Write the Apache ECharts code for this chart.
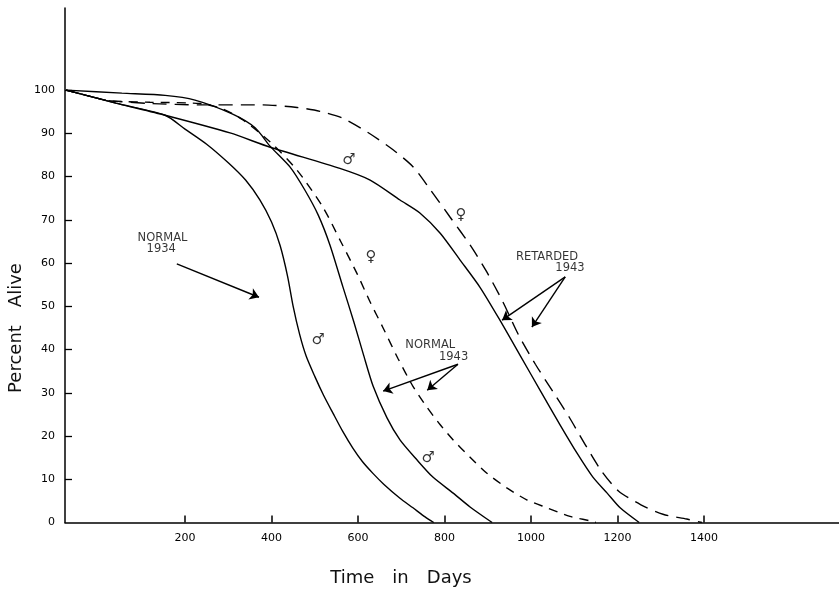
<!DOCTYPE html>
<html>
<head>
<meta charset="utf-8">
<script src="https://cdn.jsdelivr.net/npm/echarts@6/dist/echarts.min.js"></script>
<style>
  html, body { margin: 0; padding: 0; background: #ffffff; }
  #chart { width: 839px; height: 592px; }
</style>
</head>
<body>
<div id="chart"></div>
<script>
// Survival curves: [day, percent alive]
const normal1934Male = [
  [-75, 100], [40, 97], [154, 94.2], [200, 91], [250, 87.5], [300, 83.2], [340, 79.2],
  [373, 74.6], [400, 69.5], [420, 64], [437, 57], [450, 50], [465, 43.5], [480, 38.5],
  [500, 33.8], [520, 29.5], [542, 25.3], [565, 21], [588, 17.2], [610, 14.1], [635, 11.3],
  [660, 8.8], [697, 5.6], [727, 3.4], [755, 1.3], [775, 0]
];
const normal1943Male = [
  [-75, 100], [54, 99.3], [154, 98.8], [223, 97.7], [309, 94.5], [362, 91.3], [397, 87],
  [443, 82.2], [477, 76.9], [508, 71.1], [535, 64.2], [565, 54.5], [590, 46.5], [612, 39],
  [635, 31.5], [667, 24.2], [697, 19.1], [736, 14.5], [773, 10.5], [820, 6.8], [859, 3.6],
  [910, 0]
];
const normal1943Female = [
  [-75, 100], [20, 97.6], [45, 97.4], [119, 97.2], [235, 96.9], [286, 95.7], [334, 93.1],
  [397, 88], [459, 81.5], [519, 72.9], [560, 65], [598, 57.5], [628, 51], [658, 45],
  [692, 38], [727, 31.5], [759, 26.7], [790, 22.6], [820, 19.1], [859, 15.1], [898, 11.4],
  [944, 8], [991, 5.2], [1037, 3.4], [1090, 1.4], [1136, 0.4], [1150, 0]
];
const retarded1943Male = [
  [-75, 100], [40, 97], [154, 94.2], [304, 90.1], [397, 86.8], [558, 81.9], [628, 79.2],
  [697, 74.6], [743, 71.6], [790, 66.9], [836, 60.7], [882, 54.4], [928, 46.8], [975, 38.6],
  [1023, 30.2], [1067, 22.6], [1106, 16.1], [1143, 10.5], [1176, 6.8], [1206, 3.4], [1250, 0]
];
const retarded1943Female = [
  [-75, 100], [20, 97.6], [45, 97.4], [119, 96.9], [235, 96.6], [380, 96.6], [459, 96],
  [512, 95.1], [565, 93.5], [623, 90.2], [681, 86.2], [727, 82.3], [767, 77], [813, 70.6],
  [859, 64.2], [898, 57.9], [935, 51], [970, 43.6], [1010, 36.6], [1051, 30.2], [1088, 24.4],
  [1127, 17.7], [1163, 11.9], [1202, 7.3], [1254, 4.1], [1305, 1.9], [1360, 0.8], [1395, 0]
];

// Axis ticks and labels
const yTickValues = [10, 20, 30, 40, 50, 60, 70, 80, 90, 100];
const yLabelValues = [0, 10, 20, 30, 40, 50, 60, 70, 80, 90, 100];
const xTickValues = [200, 400, 600, 800, 1000, 1200, 1400];

// Group captions, anchored in data coordinates [day, percent]
const captionText = ['NORMAL', '1934', 'NORMAL', '1943', 'RETARDED', '1943'];
const captionAt = [[148, 65.7], [145, 63.2], [767, 41.0], [821, 38.3], [1037, 61.3], [1090, 58.8]];

// Sex markers next to each curve
const sexText = ['\u2642', '\u2640', '\u2640', '\u2642', '\u2642'];
const sexAt = [[579, 83.8], [838, 71.1], [630, 61.4], [508, 42.2], [762, 14.9]];

// Pointer arrows from captions to curves: [from, to]
const arrowPaths = [
  [[181, 59.8], [371, 52.1]],
  [[831, 36.6], [658, 30.4]],
  [[831, 36.6], [760, 30.6]],
  [[1079, 56.8], [933, 46.8]],
  [[1079, 56.8], [1002, 45.2]]
];

const INK = '#000000';
const FONT = 'DejaVu Sans';

function curve(name, data, dashed) {
  return {
    name: name,
    type: 'line',
    data: data,
    smooth: 0.25,
    showSymbol: false,
    symbol: 'none',
    silent: true,
    lineStyle: {
      color: INK,
      width: 1.4,
      type: dashed ? dashed : 'solid'
    },
    z: 3
  };
}

const chart = echarts.init(document.getElementById('chart'), null, { renderer: 'canvas' });

chart.setOption({
  backgroundColor: '#ffffff',
  animation: false,
  grid: { left: 65, right: 0, top: 8, bottom: 69.5, containLabel: false },
  xAxis: {
    type: 'value',
    min: -77.5,
    max: 1712,
    axisLine: { show: true, onZero: false, lineStyle: { color: INK, width: 1.5 } },
    axisTick: { show: true, inside: true, length: 7, customValues: xTickValues, lineStyle: { color: INK, width: 1.5 } },
    axisLabel: {
      show: true, customValues: xTickValues, color: INK, fontFamily: FONT, fontSize: 11, margin: 10,
      formatter: v => String(v)
    },
    splitLine: { show: false }
  },
  yAxis: {
    type: 'value',
    min: 0,
    max: 119,
    axisLine: { show: true, onZero: false, lineStyle: { color: INK, width: 1.5 } },
    axisTick: { show: true, inside: true, length: 7, customValues: yTickValues, lineStyle: { color: INK, width: 1.3 } },
    axisLabel: {
      show: true, customValues: yLabelValues, color: INK, fontFamily: FONT, fontSize: 11, margin: 10,
      formatter: v => String(v)
    },
    splitLine: { show: false }
  },
  series: [
    curve('Normal 1934 male', normal1934Male),
    curve('Normal 1943 male', normal1943Male),
    curve('Normal 1943 female', normal1943Female, [9, 7]),
    curve('Retarded 1943 male', retarded1943Male),
    curve('Retarded 1943 female', retarded1943Female, [14, 8]),
    {
      name: 'captions',
      type: 'scatter',
      silent: true,
      symbolSize: 1,
      itemStyle: { color: 'rgba(0,0,0,0)' },
      data: captionText.map((t, i) => ({ name: t, value: captionAt[i] })),
      label: {
        show: true,
        position: 'inside',
        formatter: p => p.name,
        color: INK,
        textBorderWidth: 0,
        fontFamily: FONT,
        fontSize: 11.5
      },
      markLine: {
        silent: true,
        symbol: ['none', 'arrow'],
        symbolSize: 9,
        label: { show: false },
        lineStyle: { color: INK, width: 1.4, type: 'solid' },
        data: arrowPaths.map(seg => [{ coord: seg[0] }, { coord: seg[1] }])
      },
      z: 4
    },
    {
      name: 'sex markers',
      type: 'scatter',
      silent: true,
      symbolSize: 1,
      itemStyle: { color: 'rgba(0,0,0,0)' },
      data: sexText.map((t, i) => ({ name: t, value: sexAt[i] })),
      label: {
        show: true,
        position: 'inside',
        formatter: p => p.name,
        color: INK,
        textBorderWidth: 0,
        fontFamily: FONT,
        fontSize: 15
      },
      z: 4
    }
  ],
  graphic: [
    {
      type: 'text',
      x: 401,
      y: 578,
      style: {
        text: 'Time\u2003in\u2003Days',
        fill: '#111111',
        font: 'normal 18px "DejaVu Sans"',
        align: 'center',
        verticalAlign: 'middle'
      }
    },
    {
      type: 'text',
      x: 16,
      y: 328,
      rotation: Math.PI / 2,
      style: {
        text: 'Percent\u2003Alive',
        fill: '#111111',
        font: 'normal 18px "DejaVu Sans"',
        align: 'center',
        verticalAlign: 'middle'
      }
    }
  ]
});
</script>
</body>
</html>
